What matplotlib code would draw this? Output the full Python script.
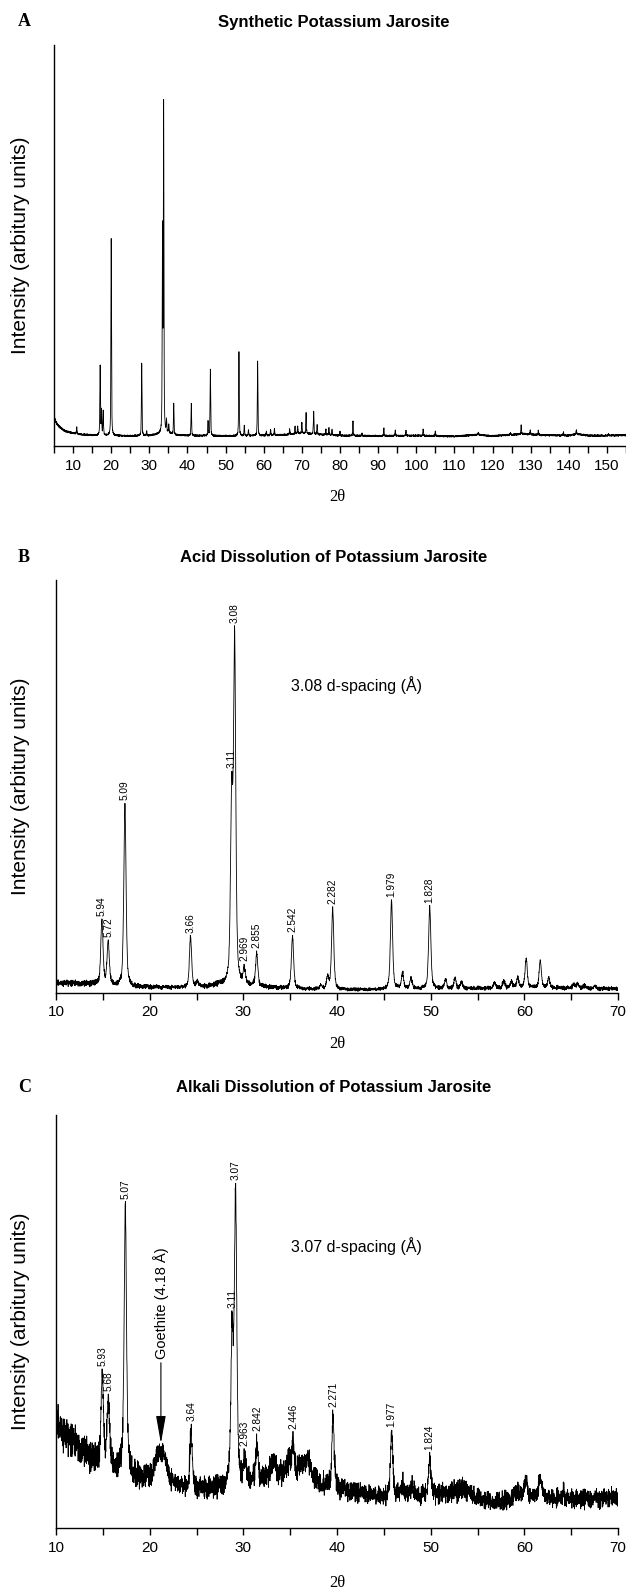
import numpy as np
import matplotlib
matplotlib.use("Agg")
import matplotlib.pyplot as plt
from matplotlib.ticker import FixedLocator, NullFormatter

SANS = ["Liberation Sans", "DejaVu Sans"]
SERIF = ["Liberation Serif", "DejaVu Serif"]

# ---------------- Panel A : Synthetic Potassium Jarosite ----------------
A_TITLE = "Synthetic Potassium Jarosite"
A_PEAK_POS = [10.96, 17.1, 17.45, 17.9, 20.0, 28.0, 29.3, 33.45, 33.75, 34.5,
              35.1, 36.4, 41.0, 45.4, 46.0, 53.5, 54.9, 56.0, 58.4, 60.7,
              61.8, 62.8, 66.8, 68.2, 68.9, 70.0, 71.1, 73.1, 74.0, 76.3,
              77.1, 77.9, 80.0, 83.4, 85.8, 91.5, 94.5, 97.3, 101.8, 105.0,
              116.3, 124.7, 127.5, 129.9, 132.0, 138.6, 142.0, 150.4]
A_PEAK_AMP = [1.6, 17.3, 6.1, 6.1, 49.0, 18.0, 1.0, 50.0, 82.0, 3.0,
              2.0, 7.6, 8.2, 3.6, 16.7, 21.0, 2.5, 1.4, 18.6, 1.0,
              1.4, 1.6, 1.4, 1.8, 1.8, 2.6, 5.2, 5.6, 2.2, 1.4,
              1.8, 1.4, 1.0, 3.6, 0.6, 2.0, 1.4, 1.3, 1.6, 1.2,
              0.6, 0.4, 2.2, 1.2, 1.2, 0.8, 0.9, 0.4]
A_BG_X = [5, 5.5, 6, 7, 8, 10, 12, 15, 20, 25, 30, 33, 35, 37, 40, 50, 60, 66, 70,
          74, 80, 90, 100, 110, 116, 120, 125, 128, 133, 140, 142, 145, 150, 155]
A_BG_Y = [7.2, 6.0, 5.2, 4.3, 3.7, 3.2, 2.9, 2.7, 2.6, 2.5, 2.6, 3.0, 3.2, 2.7, 2.6, 2.5, 2.6, 2.8, 3.2,
          2.9, 2.6, 2.5, 2.6, 2.4, 2.8, 2.5, 2.8, 3.0, 2.7, 2.6, 3.0, 2.6, 2.6, 2.7]
A_XTICKS = [10, 20, 30, 40, 50, 60, 70, 80, 90, 100, 110, 120, 130, 140, 150]

# ---------------- Panel B : Acid Dissolution ----------------
B_TITLE = "Acid Dissolution of Potassium Jarosite"
B_PEAK_POS = [14.9, 15.57, 17.36, 24.36, 25.1, 28.75, 29.07, 30.1, 31.43, 35.25,
              38.3, 39.0, 39.54, 45.82, 47.0, 47.9, 49.9, 51.6, 52.6, 53.3,
              56.8, 57.8, 58.6, 59.3, 60.2, 61.7, 62.6, 65.3, 65.7, 66.4, 67.5]
B_PEAK_AMP = [15.5, 10.5, 44.0, 12.1, 1.4, 43.0, 82.5, 3.4, 7.8, 12.7,
              1.0, 2.8, 19.5, 21.5, 3.8, 2.6, 20.0, 2.2, 2.5, 1.5,
              1.5, 1.8, 1.5, 2.3, 7.0, 6.5, 2.3, 1.0, 1.0, 0.6, 0.5]
B_BG_X = [10, 12, 14, 16, 18, 20, 24, 26, 27.5, 30, 33, 36, 40, 44, 46, 50, 55, 60, 65, 70]
B_BG_Y = [2.4, 2.3, 2.2, 1.8, 1.5, 1.4, 1.3, 1.5, 2.0, 1.8, 1.3, 1.0, 0.8, 0.8, 1.0, 1.0, 1.1, 1.3, 1.2, 1.0]
B_LABEL_POS = [14.9, 15.57, 17.36, 24.36, 28.75, 29.07, 30.1, 31.43, 35.25, 39.54, 45.82, 49.9]
B_LABEL_TXT = ["5.94", "5.72", "5.09", "3.66", "3.11", "3.08", "2.969", "2.855",
               "2.542", "2.282", "1.979", "1.828"]
B_NOTE = "3.08 d-spacing (Å)"

# ---------------- Panel C : Alkali Dissolution ----------------
C_TITLE = "Alkali Dissolution of Potassium Jarosite"
C_PEAK_POS = [14.94, 15.58, 17.4, 21.2, 24.42, 28.8, 29.17, 30.17, 31.46, 33.2,
              34.8, 35.3, 36.7, 39.57, 45.84, 47.0, 48.0, 49.9, 59.3, 60.2, 61.7, 64.2]
C_PEAK_AMP = [21.0, 16.3, 65.5, 8.0, 13.5, 36.0, 69.0, 4.5, 8.5, 3.5,
              3.0, 7.3, 4.0, 16.5, 16.0, 3.0, 2.5, 9.8, 2.0, 4.5, 4.5, 2.5]
C_PEAK_FWHM = [0.3, 0.3, 0.3, 1.3, 0.3, 0.3, 0.3, 0.3, 0.3, 0.8,
               0.5, 0.3, 1.2, 0.3, 0.3, 0.4, 0.4, 0.3, 0.6, 0.4, 0.5, 0.15]
C_BG_X = [10, 11, 12, 13, 14, 15, 16, 17, 18, 19, 20, 22, 24, 26, 28, 30, 32, 34, 35.5,
          37, 38, 40, 42, 44, 46, 48, 50, 52, 53.5, 55, 57, 59, 62, 66, 70]
C_BG_Y = [26, 22, 20.5, 18.5, 16.5, 15.5, 14.5, 14, 13, 12, 11.5, 10.5, 9.5, 9.5, 9.8, 11, 11.5, 12.5, 13,
          12.5, 10.5, 9.5, 8.5, 7.8, 7.6, 7.7, 7.6, 8.5, 9.5, 7.0, 6.5, 7.0, 7.2, 7.0, 7.3]
C_LABEL_POS = [14.94, 15.58, 17.4, 24.42, 28.8, 29.17, 30.17, 31.46, 35.3, 39.57, 45.84, 49.9]
C_LABEL_TXT = ["5.93", "5.68", "5.07", "3.64", "3.11", "3.07", "2.963", "2.842",
               "2.446", "2.271", "1.977", "1.824"]
C_NOTE = "3.07 d-spacing (Å)"
C_GOETHITE = "Goethite (4.18 Å)"
C_GOETHITE_POS = 21.2

BC_XTICKS = [10, 20, 30, 40, 50, 60, 70]

# hand-typed jitter tables used for counting-noise texture
J1 = [0.31, -0.82, 0.54, 0.12, -0.41, 0.93, -0.22, -0.71, 0.63, 0.04, -0.52, 0.81, -0.94,
      0.18, 0.42, -0.33, 0.72, -0.61, 0.09, -0.13, 0.55, -0.99, 0.27, 0.84, -0.46, -0.19,
      0.66, -0.74, 0.91, -0.57, 0.23, -0.02, -0.86, 0.38, 0.77, -0.35, -0.64, 0.14, 0.49,
      -0.91, 0.36, -0.16, 0.61, -0.44, 0.06, -0.83, 0.75, -0.27, 0.17, -0.53, 0.97, -0.67, 0.45]
J2 = [-0.48, 0.73, -0.12, 0.89, -0.66, 0.21, -0.95, 0.37, 0.58, -0.29, 0.02, -0.78, 0.64,
      -0.41, 0.86, -0.07, -0.59, 0.33, 0.92, -0.84, 0.15, -0.23, 0.69, -0.52, 0.44, -0.97,
      0.26, 0.81, -0.36, -0.11, 0.57, -0.73, 0.08, 0.98, -0.62, 0.39, -0.18]


def pattern(x, pos, amp, fwhm, bgx, bgy, noise_k):
    y = np.interp(x, bgx, bgy).astype(float)
    bg = y.copy()
    for i, (p, a) in enumerate(zip(pos, amp)):
        w = fwhm[i] if isinstance(fwhm, (list, tuple)) else fwhm
        d = (x - p) / w
        y += a * (0.5 / (1 + 4 * d * d) + 0.5 * np.exp(-4 * np.log(2) * d * d))
    idx = np.arange(len(x))
    j1 = np.array(J1)[idx % len(J1)]
    j2 = np.array(J2)[(3 * idx + idx // len(J1)) % len(J2)]
    nz = (0.75 * j1 + 0.55 * j2) / 0.54
    y += nz * noise_k * np.sqrt(bg)
    return y


fig = plt.figure(figsize=(6.26, 15.89), dpi=100)
H = 1589.0
W = 626.0


def make_axes(left_px, right_px, top_px, bottom_px):
    return fig.add_axes([left_px / W, 1 - bottom_px / H,
                         (right_px - left_px) / W, (bottom_px - top_px) / H])


def style(ax, xlim, ticks, minor):
    ax.set_xlim(*xlim)
    ax.set_ylim(0, 100)
    for s in ("top", "right"):
        ax.spines[s].set_visible(False)
    for s in ("left", "bottom"):
        ax.spines[s].set_linewidth(1.0)
    ax.set_yticks([])
    ax.xaxis.set_major_locator(FixedLocator(ticks))
    ax.xaxis.set_minor_locator(FixedLocator(minor))
    ax.xaxis.set_minor_formatter(NullFormatter())
    ax.tick_params(axis="x", which="both", direction="out", length=5, width=1.0,
                   pad=4, labelsize=11)
    for lab in ax.get_xticklabels():
        lab.set_family(SANS)
    ax.patch.set_alpha(0)


def side_text(letter, title, y_px):
    fig.text(18 / W, 1 - y_px / H, letter, family=SERIF, weight="bold", fontsize=13,
             ha="left", va="center")
    fig.text(334 / W, 1 - y_px / H, title, family=SANS, weight="bold", fontsize=12,
             ha="center", va="center")


def ylab(ax):
    b = ax.get_position()
    fig.text(21 / W, (b.y0 + b.y1) / 2, "Intensity (arbitury units)", family=SANS,
             fontsize=15, rotation=90, ha="center", va="center")


def xlab(y_px):
    fig.text(337 / W, 1 - y_px / H, "2θ", family=SERIF, fontsize=12, ha="center", va="center")


def peak_labels(ax, x, y, pos, txt):
    for p, t in zip(pos, txt):
        m = (x > p - 0.12) & (x < p + 0.12)
        top = y[m].max()
        ax.annotate(t, xy=(p, top), xytext=(0, 2), textcoords="offset points",
                    rotation=90, ha="center", va="bottom", fontsize=7.3, family=SANS)


# ---- Panel A
axA = make_axes(54, 626, 45, 446)
xA = np.arange(5, 155.001, 0.02)
yA = pattern(xA, A_PEAK_POS, A_PEAK_AMP, 0.18, A_BG_X, A_BG_Y, 0.06)
axA.plot(xA, yA, color="black", lw=0.6)
style(axA, (5, 155), A_XTICKS, [t + 5 for t in [0] + A_XTICKS])
side_text("A", A_TITLE, 22)
ylab(axA)
xlab(497)

# ---- Panel B
axB = make_axes(56, 618, 580, 993)
xB = np.arange(10, 70.001, 0.02)
yB = pattern(xB, B_PEAK_POS, B_PEAK_AMP, 0.28, B_BG_X, B_BG_Y, 0.25)
axB.plot(xB, yB, color="black", lw=0.6)
style(axB, (10, 70), BC_XTICKS, [15, 25, 35, 45, 55, 65])
peak_labels(axB, xB, yB, B_LABEL_POS, B_LABEL_TXT)
axB.text(42.1, 74.6, B_NOTE, family=SANS, fontsize=11.5, ha="center", va="center")
side_text("B", B_TITLE, 558)
ylab(axB)
xlab(1044)

# ---- Panel C
axC = make_axes(56, 618, 1115, 1528)
xC = np.arange(10, 70.001, 0.02)
yC = pattern(xC, C_PEAK_POS, C_PEAK_AMP, C_PEAK_FWHM, C_BG_X, C_BG_Y, 0.45)
axC.plot(xC, yC, color="black", lw=0.6)
style(axC, (10, 70), BC_XTICKS, [15, 25, 35, 45, 55, 65])
peak_labels(axC, xC, yC, C_LABEL_POS, C_LABEL_TXT)
axC.text(42.1, 68.3, C_NOTE, family=SANS, fontsize=11.5, ha="center", va="center")
axC.annotate("", xy=(C_GOETHITE_POS, 20.5), xytext=(C_GOETHITE_POS, 40),
             arrowprops=dict(arrowstyle="-|>,head_length=1.7,head_width=0.3",
                             color="black", lw=0.8, mutation_scale=10,
                             shrinkA=0, shrinkB=0))
axC.text(C_GOETHITE_POS, 41, C_GOETHITE, family=SANS, fontsize=10.5, rotation=90,
         ha="center", va="bottom")
side_text("C", C_TITLE, 1087)
ylab(axC)
xlab(1583)

fig.savefig("out.png", dpi=100)
